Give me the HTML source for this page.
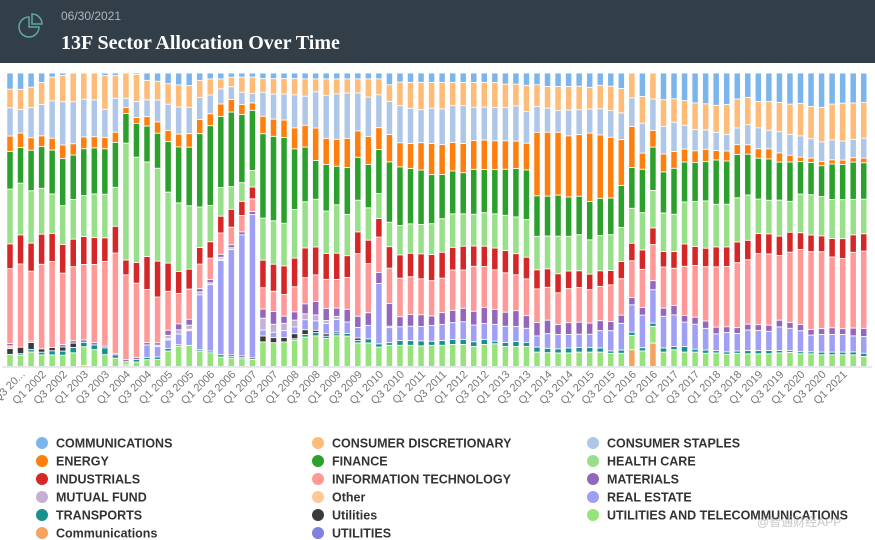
<!DOCTYPE html>
<html><head><meta charset="utf-8">
<style>
html,body{margin:0;padding:0;width:875px;height:540px;background:#fff;overflow:hidden;font-family:"Liberation Sans","Noto Sans CJK SC",sans-serif}
#hdr{position:absolute;left:0;top:0;width:875px;height:63px;background:#323e48}
#date{position:absolute;left:61px;top:9px;font-size:12px;color:#aeb6bd}
#title{position:absolute;left:61px;top:32px;font-family:"Liberation Serif",serif;font-weight:bold;font-size:20px;color:#fff}
#chart{position:absolute;left:0;top:0}
</style></head><body>
<div id="hdr">
<svg style="position:absolute;left:16px;top:10px" width="30" height="30">
<path d="M13 7 A10 10 0 1 0 23 17 L13 17 Z" fill="none" stroke="#5fa9a0" stroke-width="1.5"/>
<path d="M16 4 A10 10 0 0 1 26 14 L16 14 Z" fill="none" stroke="#5fa9a0" stroke-width="1.5"/>
</svg>
<div id="date">06/30/2021</div>
<div id="title">13F Sector Allocation Over Time</div>
</div>
<svg id="chart" width="875" height="540"></svg>
<script>
const xLabels=["Q3 20...","Q1 2002","Q3 2002","Q1 2003","Q3 2003","Q1 2004","Q3 2004","Q1 2005","Q3 2005","Q1 2006","Q3 2006","Q1 2007","Q3 2007","Q1 2008","Q3 2008","Q1 2009","Q3 2009","Q1 2010","Q3 2010","Q1 2011","Q3 2011","Q1 2012","Q3 2012","Q1 2013","Q3 2013","Q1 2014","Q3 2014","Q1 2015","Q3 2015","Q1 2016","Q3 2016","Q1 2017","Q3 2017","Q1 2018","Q3 2018","Q1 2019","Q3 2019","Q1 2020","Q3 2020","Q1 2021"];
const comm=[5.5,5.5,4.8,3.2,1.4,.8,0,0,0,.9, .9,0,.5,2.5,2.8,3.6,4,4.3,2.5,2, 2,1.4,1.4,1.4,1.9,1.9,1.9,1.9,2,2, 2,2,2,2,2,2,4,3.1,3.2,3.2, 3.2,3.2,3.2,3.2,3.2,3.2,3.2,3.8,3.8,4.2, 4,4.6,4.6,4.6,4.5,4.9,4.2,4.5,5.3,0, 8,0,9.1,8.8,9.4,10.2,10.5,11,10.8,8.9, 8.3,9.7,9.7,10,10.6,10.3,11.4,11.7,10.6,10.3, 10.3,10];
const consDisc=[6.3,6.8,6.9,7.4,8,8.9,9.7,8.9,9.1,11.4, 7.6,8.5,9.1,6.6,6.3,6.9,7.4,7.4,5.8,5.4, 3.4,3.2,5.1,5.5,4.6,5.2,5.2,5.5,5.9,4.4, 5.6,5.1,4.8,4.8,6.2,5.4,5.7,8,8.8,9.3, 8.8,9,7.9,7.9,8.5,8.4,8.5,8,7.4,8.9, 7.4,7.4,8.2,8,8,7.4,8,8.3,8.3,8.5, 9.1,8.9,9.1,8,8.4,9.1,8.9,9.2,10.2,9.9, 9.3,8.9,9.7,9.9,10.3,11,11,11.8,12.2,12.9, 12.5,12.2];
const staples=[9.6,7.9,10.2,10.5,12.6,14.6,14.2,12.8,12.5,9.6, 11.4,3.1,5.4,5.7,7.4,8.8,9.1,9,7.4,6.3, 5.1,4.3,4.1,3.2,8.1,8.4,8.8,11.2,9.9,12.3, 14.6,15.4,15.4,12.9,13.4,11.2,11.2,12.6,12,11.2, 12,12.1,12.5,12.9,11.3,11.2,11.3,11.3,12,10.8, 8.8,8.2,7.4,8.8,8.5,8.2,8.9,9.1,9.1,9.7, 10.2,10.7,9.4,10,8.1,7.2,6.6,6.2,5.7,5.7, 6.8,7.1,6.3,7.2,7.1,7.2,6.6,6.6,6.8,6.5, 6.3,6.8];
const energy=[5.2,4.9,4.2,3.6,4,4.6,3.8,4,3.8,3.8, 3.4,2,2,3.2,3.8,3.8,4.3,4.6,4.8,4, 4.2,4.2,3.4,2.5,5.9,5.8,5.9,7.1,7.4,11, 8.9,9.1,9.9,9,9.5,7.4,9.3,8.2,8.5,9.3, 10.6,10.2,9.7,9.9,9.8,10,9.8,9.7,9.3,9.1, 21.6,21.8,21.4,20.8,21,23.3,21.6,20.7,15.6,14, 5.5,5.7,6.1,5.7,4.4,4,4.2,3.2,3.4,3.4, 3.2,3.2,3.4,3.1,2.3,1.5,1.5,1.5,1.4,1.5, 1.5,1.6];
const finance=[12.8,12,13.7,14,14.8,15.9,15,15.9,15.6,15.4, 15.1,10,11.4,12.2,11.8,17,18.8,20,24.8,26.8, 24.1,25,23,20.3,28.5,28.4,29,20.5,18.6,13.2, 15.8,13.1,15.9,14.6,14.8,15,20.5,19.9,18.8,18.5, 16.7,15,14.6,14,15.3,14.7,15,15.7,16.5,16.9, 13.8,13.6,14,13.4,13.1,13.1,12.7,12.5,14.3,13.9, 14.8,14.8,14,15.7,13.6,13.3,13.4,15.1,14.8,14.8, 13.9,13.9,14,12.9,13.4,11,11,10.5,12.1,12, 12.8,12.4];
const healthCare=[18.6,17.4,17.7,15.4,13.3,13.1,13.4,13.9,14.8,14.8, 13.1,39.3,35.5,32.1,31.3,23.9,23,21.6,13.7,12.2, 9.7,7.6,6.3,5.6,14.2,14.6,14.4,16.5,15.7,16.2, 14.4,16.4,14,10.8,11,8.5,8.3,10,10,10, 10.5,11.4,11.4,11,10.8,11.4,11.6,12,12.5,12.8, 11.4,11.2,12.8,11.8,12.3,11.7,12,12.2,11.6,11.9, 12.7,12.8,13.1,12.7,14.3,15.3,16.1,14.5,14.6,15.1, 15.4,11.7,11.4,12.2,10.5,13.1,13.7,13.4,13.3,13.3, 12.2,11.8];
const industrials=[8.4,9.8,9.5,10.1,9.5,9.7,9.3,9.5,9.1,8, 9,5,7,11.2,12.1,9.5,7.4,6.8,5.6,5.5, 5.7,6,4.8,4,9.3,9.1,9.7,9.7,10.1,9.5, 8.8,8.9,7.4,7.4,8,6.3,7.3,7.9,8,8.5, 8.9,8.8,7.7,8.1,6.9,6.9,7.4,7.6,7.2,7.4, 6.5,6.3,6.5,6,5.7,5.3,5.3,4.9,5.9,6, 6.6,5.7,5.3,5.7,7.6,6.5,6.3,6.8,6.7,7.1, 6.6,6.8,6.8,6.6,6.8,5.7,5.7,5.4,6.3,6.8, 6,5.9];
const infoTech=[25.4,28,23.6,28.4,29,24.1,25,25.6,26.5,28.7, 33.7,28.5,25,18,15.4,13.1,10.2,10.3,8.3,7.2, 7.2,5.9,5.5,4.3,7.2,6.8,7.3,8.5,8.9,9, 9.9,9.7,10.8,21.3,16.7,12,12,13.1,12.8,12.2, 12,11.7,13.7,13,15.3,13.9,13.4,13.4,12.2,12.5, 11.4,11.2,10.8,11.6,11.8,11.4,11.7,12.5,12.4,12.5, 13,12.3,14,12.7,16.7,17.6,18.5,20.5,20.6,22.2, 21.9,24.1,24.1,21.9,23.9,25.4,26.5,26.2,24.1,23.9, 26,26.3];
const materials=[.8,0,.5,0,0,.8,.8,.8,.8,.6, .5,.7,.7,.8,.8,1.7,2,2,1.1,1.1, 1,1,1,1,3.1,4.3,2.4,2.8,3.4,4.6, 4.1,2.8,4.3,3.8,4.3,3.8,7.7,3.4,4,4, 3.2,4,4.2,4.6,4.7,5.5,5.1,4.8,5.4,4.3, 4.6,4.6,3.4,4,4.1,3.8,3.4,3.1,2.8,2.5, 2.6,3.1,2.8,3.2,2.3,2.4,2.5,2.3,2,2, 2,2,2.1,2.3,2,2.1,1.9,2,2.3,2, 2.7,2.8];
const mutualFund=[0,0,0,0,0,0,0,0,0,0, 0,0,0,0,.5,1.1,1.4,1.4,1,.6, .6,.6,0,0,4,2.7,2.5,2.3,2,2, 1,1.1,0,0,0,0,.5,0,0,0, 0,0,0,0,0,0,0,0,0,0, 0,0,0,0,0,0,0,0,0,0, 0,0,0,0,0,0,0,0,0,0, 0,0,0,0,0,0,0,0,0,0, 0,0];
const other=[.9,0,0,0,0,0,0,0,0,0, 0,0,0,0,0,.5,0,.5,0,0, .5,0,0,0,0,0,0,0,0,0, 0,0,0,0,0,0,0,0,0,0, 0,0,0,0,0,0,0,0,0,0, 0,0,0,0,0,0,0,0,0,0, 0,0,0,0,0,0,0,0,0,0, 0,0,0,0,0,0,0,0,0,0, 0,0];
const realEstate=[0,0,0,0,0,0,0,0,0,0, 0,0,0,4.2,3.5,2.8,3.6,5,18.5,22.3, 31.9,35.3,40.8,48.4,2,1.8,2.3,2.3,3.4,3.2, 3.5,4.2,3.9,3.6,4.6,20.5,5.1,4.7,4.9,4.9, 5.4,5.5,5.7,6,5.7,5.4,5.7,5.5,5.1,4.8, 3.8,5,4.9,4.6,4.5,4.5,5.9,6.9,9.1,9.3, 11.1,11.4,10.8,10.8,8.3,8.5,7.4,5.7,6.6,6, 7,6.8,6.5,8,7.6,7.1,5.7,6,6,6, 5.5,5.7];
const utilDark=[2,2.2,2.4,1.1,1.1,1.4,1.5,0,0,0, 0,0,0,0,0,0,0,0,0,0, 0,.5,.5,.5,2,1.7,1.5,1.7,1.6,.8, .8,.6,0,.8,0,0,0,0,0,0, 0,0,0,0,0,0,0,0,0,0, 0,0,0,0,0,0,0,0,0,0, 0,0,0,0,0,0,0,0,0,0, 0,0,0,0,0,0,0,0,0,0, 0,0];
const transports=[0,.5,.8,.9,1.4,1.4,1.8,1.5,1.6,2.3, 1.1,0,.9,.8,.8,.9,.5,0,.5,.6, .8,.6,.5,0,0,0,0,.5,.9,1.1, .8,.7,.9,.9,1.4,1.1,.9,1.6,1.6,1.7, 1.4,1.6,1.7,1.7,1.6,1.7,.9,1.4,1.7,1.4, 1.7,1.5,1.4,1.7,1.6,1.6,1.4,.8,1.1,1.1, 1.1,1.1,1.4,1.1,1.9,1,1.1,.8,.8,.8, 1.1,1.1,1.1,.8,.6,.7,.7,.9,.9,.9, 1,1.1];
const commSmall=[0,0,0,0,0,0,0,.3,0,0, 0,.5,0,0,0,0,0,0,0,0, 0,0,0,0,0,0,0,0,0,0, 0,0,0,0,0,0,0,0,0,0, 0,0,0,0,0,0,0,0,0,0, 0,0,0,0,0,0,0,0,0,5.7, 0,8,0,0,0,0,0,0,0,0, 0,0,0,0,0,0,0,0,0,0, 0,0];
const utilTel=[4.1,3.8,4.9,3.9,3.9,3.8,4.6,6.4,5.7,4, 2.8,1.1,1.5,2.3,2.4,5.2,6.8,7.2,5.2,4.6, 3.2,2.8,2.6,2.4,8.3,8,8.3,8.9,10,10.4, 9.5,10.4,10.3,8,8,6.6,7.2,7.2,7.2,7, 7.2,7.2,7.5,7.5,6.8,7.5,7.7,6.8,6.8,6.8, 4.9,4.7,4.6,4.6,4.9,4.9,4.9,4.5,4.5,4.9, 5.3,5.7,4.9,5.7,4.9,4.9,4.5,4.6,4.2,4.5, 4.3,4.3,4.3,4.6,4.8,4.3,4.3,4,4,4, 4,3.4];
const utilities=[0,0,0,0,0,0,0,0,0,0, 0,0,0,0,0,0,0,0,0,0, 0,0,0,0,0,0,0,0,0,0, 0,0,0,0,0,0,0,0,0,0, 0,0,0,0,0,0,0,0,0,0, 0,0,0,0,0,0,0,0,0,0, 0,0,0,0,0,0,0,0,0,0, 0,0,0,0,0,0,0,0,0,0, 0,0];

const series=[
 {key:"communications-small",label:"Communications",color:"#f4a460",vals:commSmall},
 {key:"utilities-and-telecom",label:"UTILITIES AND TELECOMMUNICATIONS",color:"#97e37b",vals:utilTel},
 {key:"transports",label:"TRANSPORTS",color:"#17908e",vals:transports},
 {key:"utilities-dark",label:"Utilities",color:"#3a3a3a",vals:utilDark},
 {key:"utilities",label:"UTILITIES",color:"#8080e0",vals:utilities},
 {key:"real-estate",label:"REAL ESTATE",color:"#9f9ff5",vals:realEstate},
 {key:"other",label:"Other",color:"#ffc896",vals:other},
 {key:"mutual-fund",label:"MUTUAL FUND",color:"#c5b0d5",vals:mutualFund},
 {key:"materials",label:"MATERIALS",color:"#9467bd",vals:materials},
 {key:"information-technology",label:"INFORMATION TECHNOLOGY",color:"#ff9896",vals:infoTech},
 {key:"industrials",label:"INDUSTRIALS",color:"#d62728",vals:industrials},
 {key:"health-care",label:"HEALTH CARE",color:"#98df8a",vals:healthCare},
 {key:"finance",label:"FINANCE",color:"#2ca02c",vals:finance},
 {key:"energy",label:"ENERGY",color:"#ff7f0e",vals:energy},
 {key:"consumer-staples",label:"CONSUMER STAPLES",color:"#aec7e8",vals:staples},
 {key:"consumer-discretionary",label:"CONSUMER DISCRETIONARY",color:"#ffbb78",vals:consDisc},
 {key:"communications",label:"COMMUNICATIONS",color:"#7cb5ec",vals:comm}
];
const legendOrder=["communications","consumer-discretionary","consumer-staples","energy","finance","health-care","industrials","information-technology","materials","mutual-fund","other","real-estate","transports","utilities-dark","utilities-and-telecom","communications-small","utilities"];

const NS="http://www.w3.org/2000/svg";
const svg=document.getElementById("chart");
const plotTop=73,plotBottom=366.5,x0=10,pitch=10.54,barW=5.5;
const nBars=comm.length;
function xScale(i){return x0+i*pitch;}
function yScale(p){return plotBottom-(plotBottom-plotTop)*p/100;}
function mk(tag,attrs){const e=document.createElementNS(NS,tag);for(const k in attrs)e.setAttribute(k,attrs[k]);return e;}

for(let i=0;i<nBars;i++){
  let total=0;series.forEach(s=>total+=s.vals[i]);
  let acc=0;
  const g=mk("g",{});
  
  
  series.forEach(s=>{
    const v=s.vals[i];if(v<=0)return;
    const p0=acc/total*100;acc+=v;const p1=acc/total*100;
    const yb=yScale(p0),yt=yScale(p1);
    const h=Math.max(0.4,yb-yt-0.9);
    const r=mk("rect",{x:xScale(i)-barW/2,y:yt+0.45,width:barW,height:h,fill:s.color});
    
    
    g.appendChild(r);
  });
  svg.appendChild(g);
}
const axis=mk("line",{x1:2,x2:872,y1:plotBottom+0.5,y2:plotBottom+0.5,stroke:"#ccd6de","stroke-width":1});


svg.appendChild(axis);

xLabels.forEach((t,k)=>{
  const x=xScale(1+2*k)+5;
  const tx=mk("text",{x:x,y:375,"text-anchor":"end","font-size":"11",fill:"#777",transform:`rotate(-45 ${x} 375)`});
  tx.textContent=t;
  
  
  svg.appendChild(tx);
});

const colX=[42,318,593],rowY=[443,461,479,497,515,533];
legendOrder.forEach((key,idx)=>{
  const s=series.find(z=>z.key===key);
  const cx=colX[idx%3],cy=rowY[Math.floor(idx/3)];
  const g=mk("g",{});
  
  
  g.appendChild(mk("circle",{cx:cx,cy:cy,r:6,fill:s.color}));
  const tx=mk("text",{x:cx+14,y:cy+4.5,"font-size":"12.5","font-weight":"bold",fill:"#333"});
  tx.textContent=s.label;
  g.appendChild(tx);
  svg.appendChild(g);
});
const wm=mk("text",{x:757,y:526,"font-size":"12",fill:"rgba(160,160,160,0.6)","font-family":"Liberation Sans, Noto Sans CJK SC, sans-serif"});
wm.textContent="@智通财经APP";


svg.appendChild(wm);
</script>
</body></html>
